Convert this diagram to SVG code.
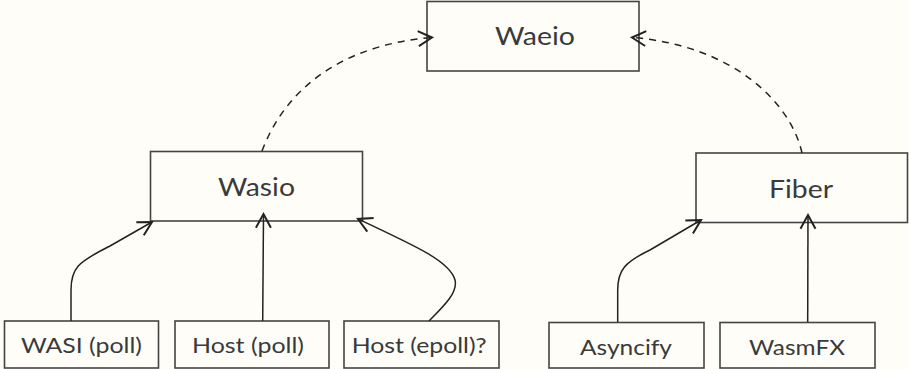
<svg xmlns="http://www.w3.org/2000/svg" width="909" height="369" viewBox="0 0 909 369">
<defs>
<style>
.box{fill:#fefdf8;stroke:#444;stroke-width:1.6}
.t{font-family:Lato,"Open Sans",sans-serif;font-weight:400;fill:#3a3a3a;text-anchor:middle}
.big{font-size:25px}
.sm{font-size:21.5px}
.e{fill:none;stroke:#222;stroke-width:1.5;marker-end:url(#ah)}
.d{stroke-dasharray:7 6}
</style>
<marker id="ah" markerUnits="userSpaceOnUse" markerWidth="20" markerHeight="20" viewBox="-12 -8 14 16" refX="0" refY="0" orient="auto">
<path d="M-11,-6 L0,0 L-11,6" fill="none" stroke="#222" stroke-width="1.6"/>
</marker>
</defs>
<rect width="909" height="369" fill="#fefdf8"/>
<g id="waeio"><rect class="box" x="427" y="1.5" width="212" height="69.5"/><text class="t big" x="535" y="45" textLength="80" lengthAdjust="spacingAndGlyphs">Waeio</text></g>
<g id="wasio"><rect class="box" x="150.5" y="151.5" width="212" height="69.5"/><text class="t big" x="256.5" y="196" textLength="77" lengthAdjust="spacingAndGlyphs">Wasio</text></g>
<g id="fiber"><rect class="box" x="696" y="153" width="211.5" height="69.5"/><text class="t big" x="801" y="198" textLength="64" lengthAdjust="spacingAndGlyphs">Fiber</text></g>
<g id="wasi"><rect class="box" x="4.5" y="321" width="154" height="47"/><text class="t sm" x="81.4" y="353" textLength="121" lengthAdjust="spacingAndGlyphs">WASI (poll)</text></g>
<g id="hostpoll"><rect class="box" x="175" y="321" width="154" height="47"/><text class="t sm" x="248" y="353" textLength="112" lengthAdjust="spacingAndGlyphs">Host (poll)</text></g>
<g id="hostepoll"><rect class="box" x="344" y="321" width="155" height="47"/><text class="t sm" x="419.2" y="353" textLength="135" lengthAdjust="spacingAndGlyphs">Host (epoll)?</text></g>
<g id="asyncify"><rect class="box" x="549" y="322.5" width="155" height="45.5"/><text class="t sm" x="626" y="355" textLength="92" lengthAdjust="spacingAndGlyphs">Asyncify</text></g>
<g id="wasmfx"><rect class="box" x="720" y="322.5" width="155" height="45.5"/><text class="t sm" x="797" y="355" textLength="96" lengthAdjust="spacingAndGlyphs">WasmFX</text></g>
<g id="connectors">
<path class="e" d="M71,321 L71,290 C71,268 78,262 110,246 L152,222"/>
<path class="e" d="M262.7,321 L263.5,214"/>
<path class="e" d="M429,321 C445,305 458,292 455,280 C450,262 420,248 358,219"/>
<path class="e" d="M617.7,322 L617.7,290 C617.7,270 625,262 650,250 L701,220"/>
<path class="e" d="M807.7,322 L808,215"/>
<path class="e d" d="M262,151 C285,90 340,45 432,37.5"/>
<path class="e d" d="M802,153 C790,100 730,45 632,37.5"/>
</g>
</svg>
